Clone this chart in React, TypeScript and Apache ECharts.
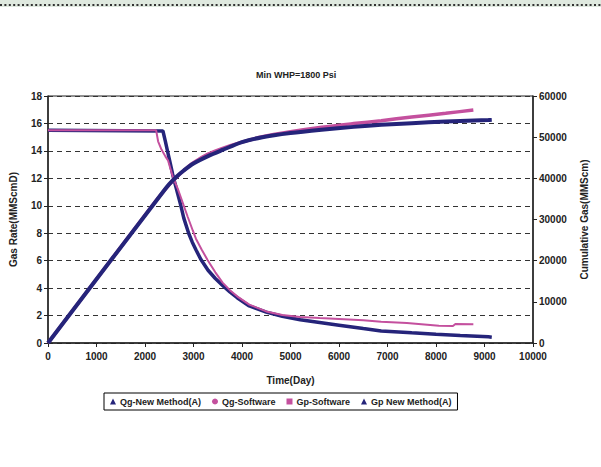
import React, { useEffect, useRef } from "react";
import * as echarts from "echarts";

const titleText = "Min WHP=1800 Psi";
const xTicks = { min: 0, max: 10000, interval: 1000 };
const leftTicks = { min: 0, max: 18, interval: 2 };
const rightTicks = { min: 0, max: 60000, interval: 10000 };

const qgNewDays = [0, 2370, 2420, 2470, 2520, 2570, 2620, 2680, 2740, 2800, 2900, 2975, 3050, 3150, 3300, 3450, 3600, 3750, 3900, 4150, 4500, 4830, 5200, 5600, 6000, 6500, 6870, 7500, 8000, 8500, 9080, 9150];
const qgNewVals = [15.5, 15.45, 14.7, 13.9, 13.1, 12.3, 11.6, 10.8, 10.0, 9.1, 8.0, 7.35, 6.8, 6.1, 5.3, 4.7, 4.2, 3.72, 3.3, 2.7, 2.25, 1.95, 1.7, 1.5, 1.3, 1.05, 0.88, 0.74, 0.63, 0.54, 0.45, 0.42];

const qgSwDays = [0, 2230, 2270, 2340, 2420, 2475, 2575, 2680, 2780, 2880, 2985, 3050, 3170, 3290, 3450, 3600, 3750, 3900, 4150, 4500, 4830, 5200, 5600, 6000, 6500, 6870, 7400, 8060, 8350, 8400, 8770];
const qgSwVals = [15.5, 15.5, 14.7, 14.1, 13.6, 13.3, 12.1, 11.2, 10.2, 9.2, 8.2, 7.6, 6.8, 6.05, 5.15, 4.4, 3.85, 3.4, 2.8, 2.3, 2.04, 1.9, 1.82, 1.75, 1.65, 1.55, 1.45, 1.26, 1.24, 1.38, 1.36];

const gpSwDays = [0, 2230, 2400, 2600, 2800, 3000, 3300, 3600, 4000, 4420, 5000, 5640, 6300, 6870, 7500, 8200, 8770];
const gpSwVals = [0, 34600, 37100, 39700, 41900, 43800, 45900, 47300, 48800, 50100, 51300, 52400, 53300, 54000, 54900, 55800, 56600];

const gpNewDays = [0, 2370, 2500, 2650, 2800, 3000, 3300, 3600, 4000, 4420, 5000, 5640, 6300, 6870, 7500, 8200, 9080, 9150];
const gpNewVals = [0, 36700, 38600, 40400, 41900, 43600, 45400, 46900, 48800, 50000, 51000, 51800, 52500, 53000, 53400, 53800, 54150, 54200];

const NAVY = "#25247A";
const PINK = "#C4509E";

const pairs = (d: number[], v: number[]) => d.map((x, i) => [x, v[i]]);

export default function App() {
  const ref = useRef<HTMLDivElement>(null);
  useEffect(() => {
    if (!ref.current) return;
    const chart = echarts.init(ref.current, null, { renderer: "svg" });
    const font = "'Liberation Sans', Arial, sans-serif";
    const lbl = { fontFamily: font, fontWeight: "bold" as const, fontSize: 10, color: "#222" };
    const plain = (v: number) => String(v);
    chart.setOption({
      animation: false,
      backgroundColor: "#fff",
      title: {
        text: titleText,
        left: 251,
        top: 65,
        textStyle: { fontFamily: font, fontWeight: "bold", fontSize: 9, color: "#222" },
      },
      graphic: [
        { type: "rect", shape: { x: 0, y: 0, width: 601, height: 7 }, style: { fill: "#dfe9df" } },
        { type: "line", shape: { x1: 0, y1: 5, x2: 601, y2: 5 }, style: { stroke: "#333", lineWidth: 2, lineDash: [2, 2.4] } },
      ],
      legend: {
        left: 104,
        top: 393,
        padding: [4, 6, 4, 6],
        borderColor: "#000",
        borderWidth: 1,
        itemGap: 11,
        itemWidth: 6,
        itemHeight: 6,
        textStyle: { fontFamily: font, fontWeight: "bold", fontSize: 9, color: "#222", padding: [0, 0, 0, -1] },
        data: [
          { name: "Qg-New Method(A)", icon: "triangle", itemStyle: { color: NAVY } },
          { name: "Qg-Software", icon: "circle", itemStyle: { color: PINK } },
          { name: "Gp-Software", icon: "rect", itemStyle: { color: PINK } },
          { name: "Gp New Method(A)", icon: "triangle", itemStyle: { color: NAVY } },
        ],
      },
      grid: {
        left: 44,
        right: 68,
        top: 96,
        bottom: 124,
        show: true,
        borderColor: "#222",
        borderWidth: 1,
      },
      xAxis: {
        type: "value",
        ...xTicks,
        name: "Time(Day)",
        nameLocation: "middle",
        nameGap: 32,
        nameTextStyle: { ...lbl, fontSize: 10 },
        axisLine: { lineStyle: { color: "#222", width: 1.5 } },
        axisTick: { lineStyle: { color: "#222" }, length: 4 },
        axisLabel: { ...lbl, margin: 8, formatter: plain },
        splitLine: { show: false },
      },
      yAxis: [
        {
          type: "value",
          ...leftTicks,
          name: "Gas Rate(MMScmD)",
          nameLocation: "middle",
          nameGap: 30,
          nameTextStyle: { ...lbl },
          axisLine: { show: true, lineStyle: { color: "#222", width: 1.5 } },
          axisTick: { show: true, lineStyle: { color: "#222" }, length: 4 },
          axisLabel: { ...lbl, margin: 6, formatter: plain },
          splitLine: { show: true, lineStyle: { color: "#333", type: [5, 4], width: 1 } },
        },
        {
          type: "value",
          ...rightTicks,
          name: "Cumulative Gas(MMScm)",
          nameLocation: "middle",
          nameGap: 46,
          nameRotate: 90,
          nameTextStyle: { ...lbl },
          position: "right",
          axisLine: { show: true, lineStyle: { color: "#222", width: 1.5 } },
          axisTick: { show: true, lineStyle: { color: "#222" }, length: 4 },
          axisLabel: { ...lbl, margin: 6, formatter: plain },
          splitLine: { show: false },
        },
      ],
      series: [
        {
          name: "Qg-New Method(A)",
          type: "line",
          yAxisIndex: 0,
          data: pairs(qgNewDays, qgNewVals),
          symbol: "none",
          lineStyle: { color: NAVY, width: 3.5 },
          itemStyle: { color: NAVY },
        },
        {
          name: "Qg-Software",
          type: "line",
          yAxisIndex: 0,
          data: pairs(qgSwDays, qgSwVals),
          symbol: "none",
          lineStyle: { color: PINK, width: 2 },
          itemStyle: { color: PINK },
        },
        {
          name: "Gp-Software",
          type: "line",
          yAxisIndex: 1,
          data: pairs(gpSwDays, gpSwVals),
          symbol: "none",
          smooth: 0.3,
          lineStyle: { color: PINK, width: 3.5 },
          itemStyle: { color: PINK },
        },
        {
          name: "Gp New Method(A)",
          type: "line",
          yAxisIndex: 1,
          data: pairs(gpNewDays, gpNewVals),
          symbol: "none",
          smooth: 0.3,
          lineStyle: { color: NAVY, width: 4 },
          itemStyle: { color: NAVY },
        },
      ],
    });
    return () => chart.dispose();
  }, []);
  return <div ref={ref} style={{ position: "fixed", left: 0, top: 0, width: 601, height: 467 }} />;
}
